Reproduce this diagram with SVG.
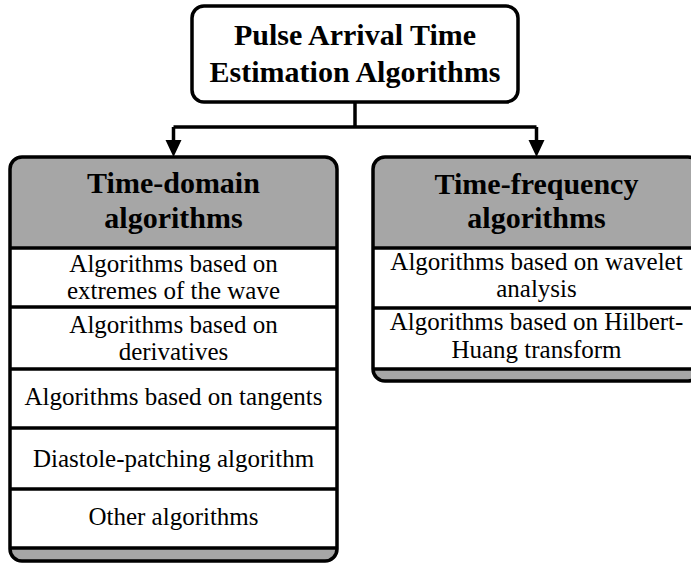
<svg xmlns="http://www.w3.org/2000/svg" width="691" height="563" viewBox="0 0 691 563">
<style>
.outline{fill:none;stroke:#000;stroke-width:3.5}
.gray{fill:#a6a6a6}
.white{fill:#fff}
.sep{stroke:#000;stroke-width:3.5}
.conn{fill:none;stroke:#000;stroke-width:3.5}
text{font-family:"Liberation Serif","Times New Roman",serif;text-anchor:middle;fill:#000}
.b{font-weight:bold;font-size:30px}
.r{font-size:25px}
</style>
<defs>
<marker id="ah" viewBox="0 0 16 17" refX="8" refY="17" markerWidth="16" markerHeight="17" markerUnits="userSpaceOnUse" orient="auto-start-reverse">
<path d="M0,0 L16,0 L8,17 Z" fill="#000"/>
</marker>
</defs>
<rect width="691" height="563" fill="#fff"/>
<g id="connectors">
<path class="conn" d="M355,102 V127"/>
<path class="conn" d="M173.5,127 H536.5"/>
<path class="conn" d="M173.5,127 V140"/>
<path class="conn" d="M536.5,127 V140"/>
<path d="M165.5,140 L181.5,140 L173.5,157 Z" fill="#000"/>
<path d="M528.5,140 L544.5,140 L536.5,157 Z" fill="#000"/>
</g>
<g id="root">
<rect class="outline" x="192" y="6" width="326" height="96" rx="12" fill="#fff"/>
<text class="b" x="355" y="45">Pulse Arrival Time</text>
<text class="b" x="355" y="82">Estimation Algorithms</text>
</g>
<g id="time-domain">
<rect class="gray" x="10" y="157" width="327" height="404" rx="12"/>
<rect class="white" x="10" y="248" width="327" height="300"/>
<line class="sep" x1="10" y1="248" x2="337" y2="248"/>
<line class="sep" x1="10" y1="307" x2="337" y2="307"/>
<line class="sep" x1="10" y1="369" x2="337" y2="369"/>
<line class="sep" x1="10" y1="428" x2="337" y2="428"/>
<line class="sep" x1="10" y1="489" x2="337" y2="489"/>
<line class="sep" x1="10" y1="548" x2="337" y2="548"/>
<rect class="outline" x="10" y="157" width="327" height="404" rx="12"/>
<text class="b" x="173.5" y="193">Time-domain</text>
<text class="b" x="173.5" y="228">algorithms</text>
<text class="r" x="173.5" y="272">Algorithms based on</text>
<text class="r" x="173.5" y="299">extremes of the wave</text>
<text class="r" x="173.5" y="333">Algorithms based on</text>
<text class="r" x="173.5" y="360">derivatives</text>
<text class="r" x="173.5" y="405">Algorithms based on tangents</text>
<text class="r" x="173.5" y="467">Diastole-patching algorithm</text>
<text class="r" x="173.5" y="525">Other algorithms</text>
</g>
<g id="time-frequency">
<rect class="gray" x="373" y="157" width="327" height="224" rx="12"/>
<rect class="white" x="373" y="248" width="327" height="121"/>
<line class="sep" x1="373" y1="248" x2="700" y2="248"/>
<line class="sep" x1="373" y1="308" x2="700" y2="308"/>
<line class="sep" x1="373" y1="369" x2="700" y2="369"/>
<rect class="outline" x="373" y="157" width="327" height="224" rx="12"/>
<text class="b" x="536.5" y="194">Time-frequency</text>
<text class="b" x="536.5" y="228">algorithms</text>
<text class="r" x="536.5" y="270">Algorithms based on wavelet</text>
<text class="r" x="536.5" y="297">analysis</text>
<text class="r" x="536.5" y="330">Algorithms based on Hilbert-</text>
<text class="r" x="536.5" y="358">Huang transform</text>
</g>
</svg>
